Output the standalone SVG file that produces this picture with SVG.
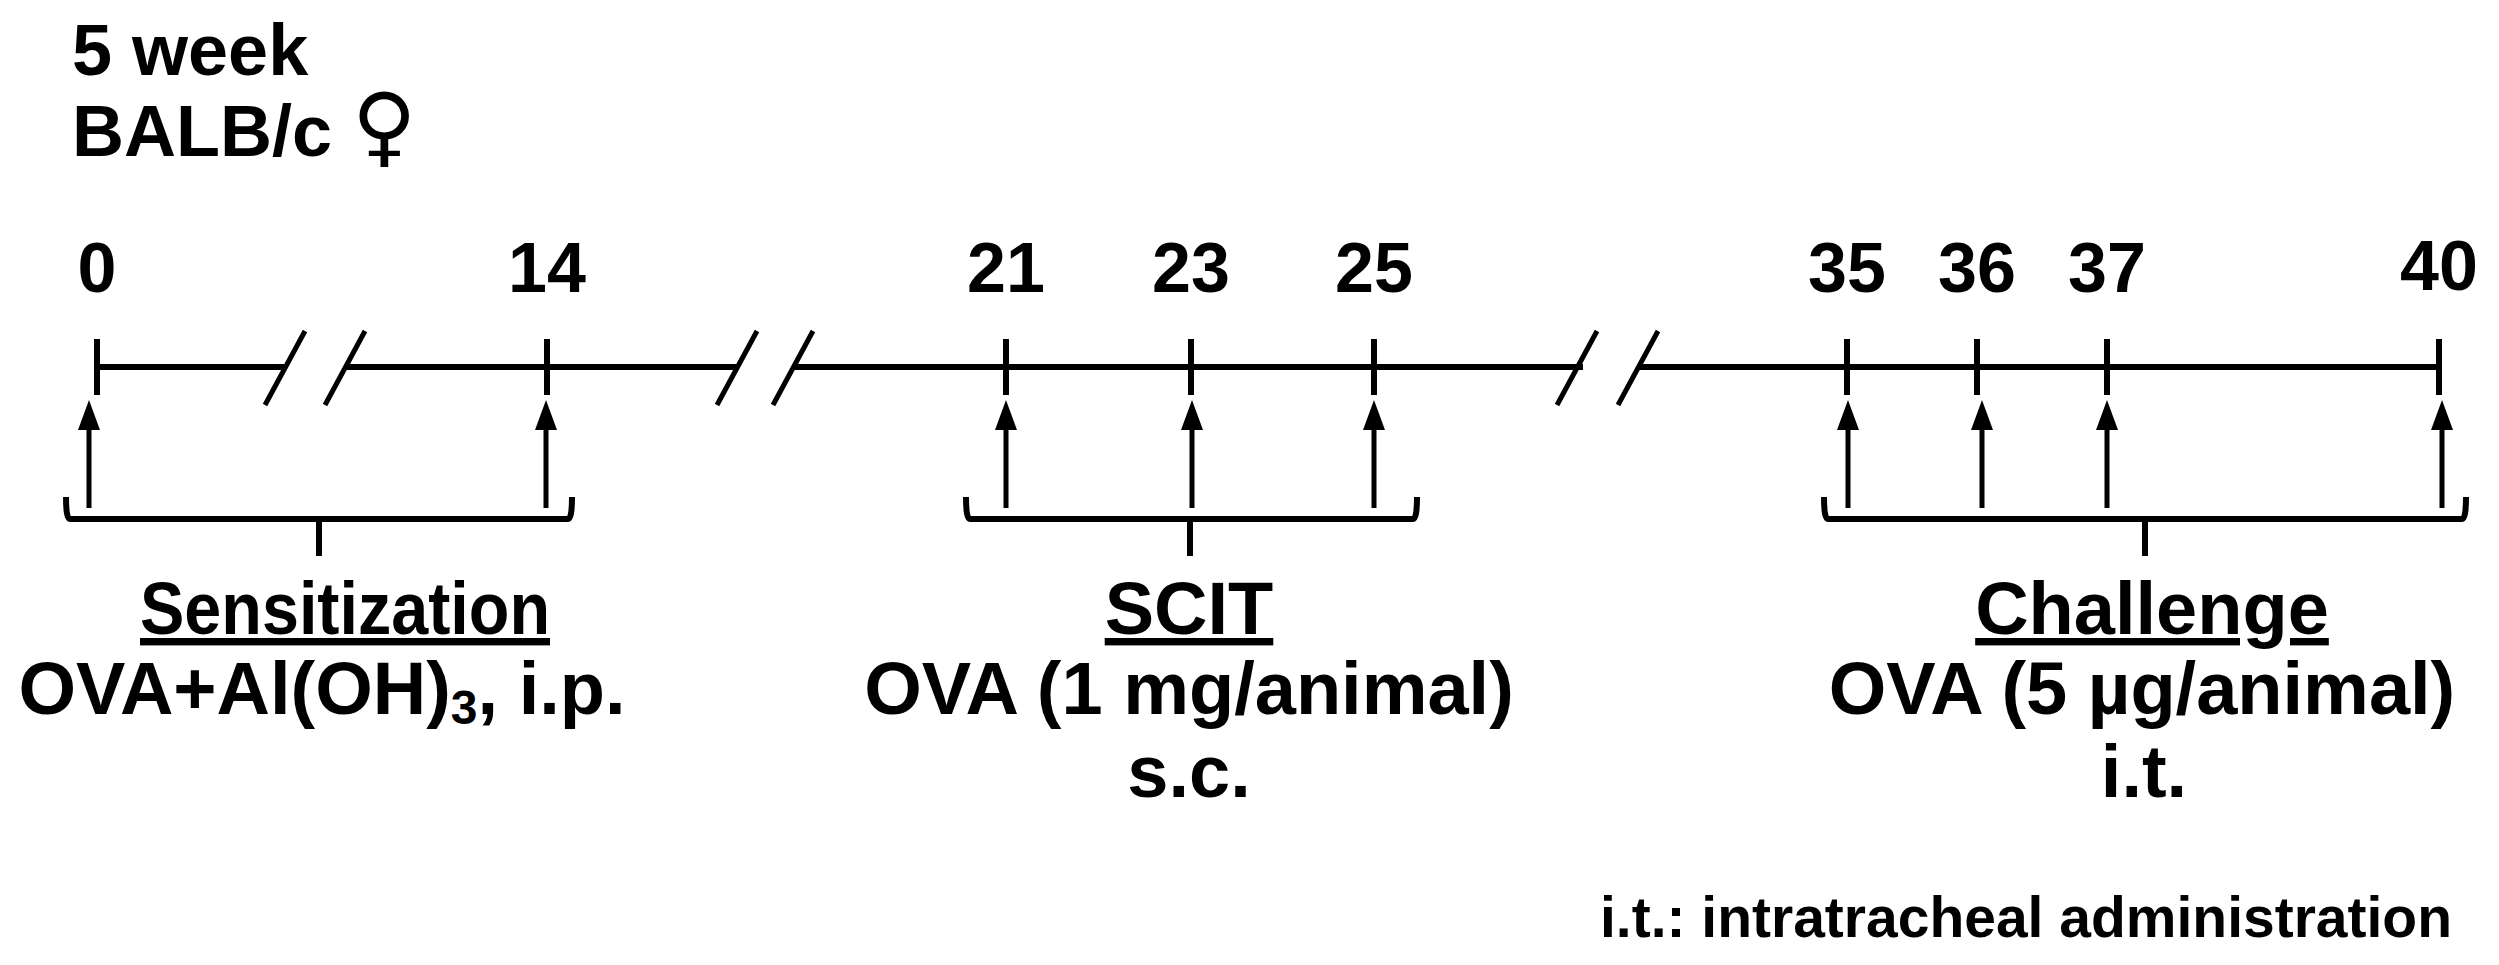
<svg xmlns="http://www.w3.org/2000/svg" width="2499" height="965" viewBox="0 0 2499 965">
<defs>
<style>
text{font-family:"Liberation Sans",Arial,"DejaVu Sans",sans-serif;font-weight:bold;fill:#000}
.n{font-size:70px;text-anchor:middle}
.l{font-size:74px;text-anchor:middle}
.ln{stroke:#000;stroke-width:6;fill:none}
.ar{stroke:#000;stroke-width:5;fill:none}
.br{stroke:#000;stroke-width:6;fill:none;stroke-linejoin:round}
</style>
</defs>
<g id="title">
<text x="72" y="75" style="font-size:72px">5 week</text>
<text x="72" y="156" style="font-size:72px">BALB/c <tspan style="font-family:'DejaVu Sans',sans-serif;font-size:88px;font-weight:bold">♀</tspan></text>
</g>
<g id="days">
<text class="n" x="97" y="292">0</text>
<text class="n" x="547" y="292">14</text>
<text class="n" x="1006" y="292">21</text>
<text class="n" x="1191" y="292">23</text>
<text class="n" x="1374" y="292">25</text>
<text class="n" x="1847" y="292">35</text>
<text class="n" x="1977" y="292">36</text>
<text class="n" x="2107" y="292">37</text>
<text class="n" x="2439" y="290">40</text>
</g>
<g id="connectors">
<path class="ln" d="M97,367H284 M345,367H738 M794,367H1583 M1639,367H2439"/>
<path class="ln" d="M97,339V395 M547,339V395 M1006,339V395 M1191,339V395 M1374,339V395 M1847,339V395 M1977,339V395 M2107,339V395 M2439,339V395"/>
<path class="ln" d="M265,405L305,331 M325,405L365,331 M717,405L757,331 M773,405L813,331 M1557,405L1597,331 M1618,405L1658,331" style="stroke-width:5"/>
<g id="arrows">
<path class="ar" d="M89,508V425 M546,508V425 M1006,508V425 M1192,508V425 M1374,508V425 M1848,508V425 M1982,508V425 M2107,508V425 M2442,508V425"/>
<path d="M89,400l-11,30h22z M546,400l-11,30h22z M1006,400l-11,30h22z M1192,400l-11,30h22z M1374,400l-11,30h22z M1848,400l-11,30h22z M1982,400l-11,30h22z M2107,400l-11,30h22z M2442,400l-11,30h22z" fill="#000"/>
</g>
<path class="br" d="M66,497Q66,519 70,519H568Q572,519 572,497 M319,519V556"/>
<path class="br" d="M966,497Q966,519 970,519H1413Q1417,519 1417,497 M1190,519V556"/>
<path class="br" d="M1824,497Q1824,519 1828,519H2462Q2466,519 2466,497 M2145,519V556"/>
</g>
<g id="sensitization">
<text class="l" x="345" y="634" text-decoration="underline" textLength="410" lengthAdjust="spacingAndGlyphs">Sensitization</text>
<text class="l" x="322" y="714">OVA+Al(OH)<tspan dy="10" style="font-size:48px">3</tspan><tspan dy="-10">, i.p.</tspan></text>
</g>
<g id="scit">
<text class="l" x="1189" y="634" text-decoration="underline">SCIT</text>
<text class="l" x="1189" y="714">OVA (1 mg/animal)</text>
<text class="l" x="1189" y="797">s.c.</text>
</g>
<g id="challenge">
<text class="l" x="2152" y="634" text-decoration="underline">Challenge</text>
<text class="l" x="2142" y="714">OVA (5 µg/animal)</text>
<text class="l" x="2144" y="797">i.t.</text>
</g>
<g id="note">
<text x="2452" y="937" style="font-size:57px;text-anchor:end">i.t.: intratracheal administration</text>
</g>
</svg>
